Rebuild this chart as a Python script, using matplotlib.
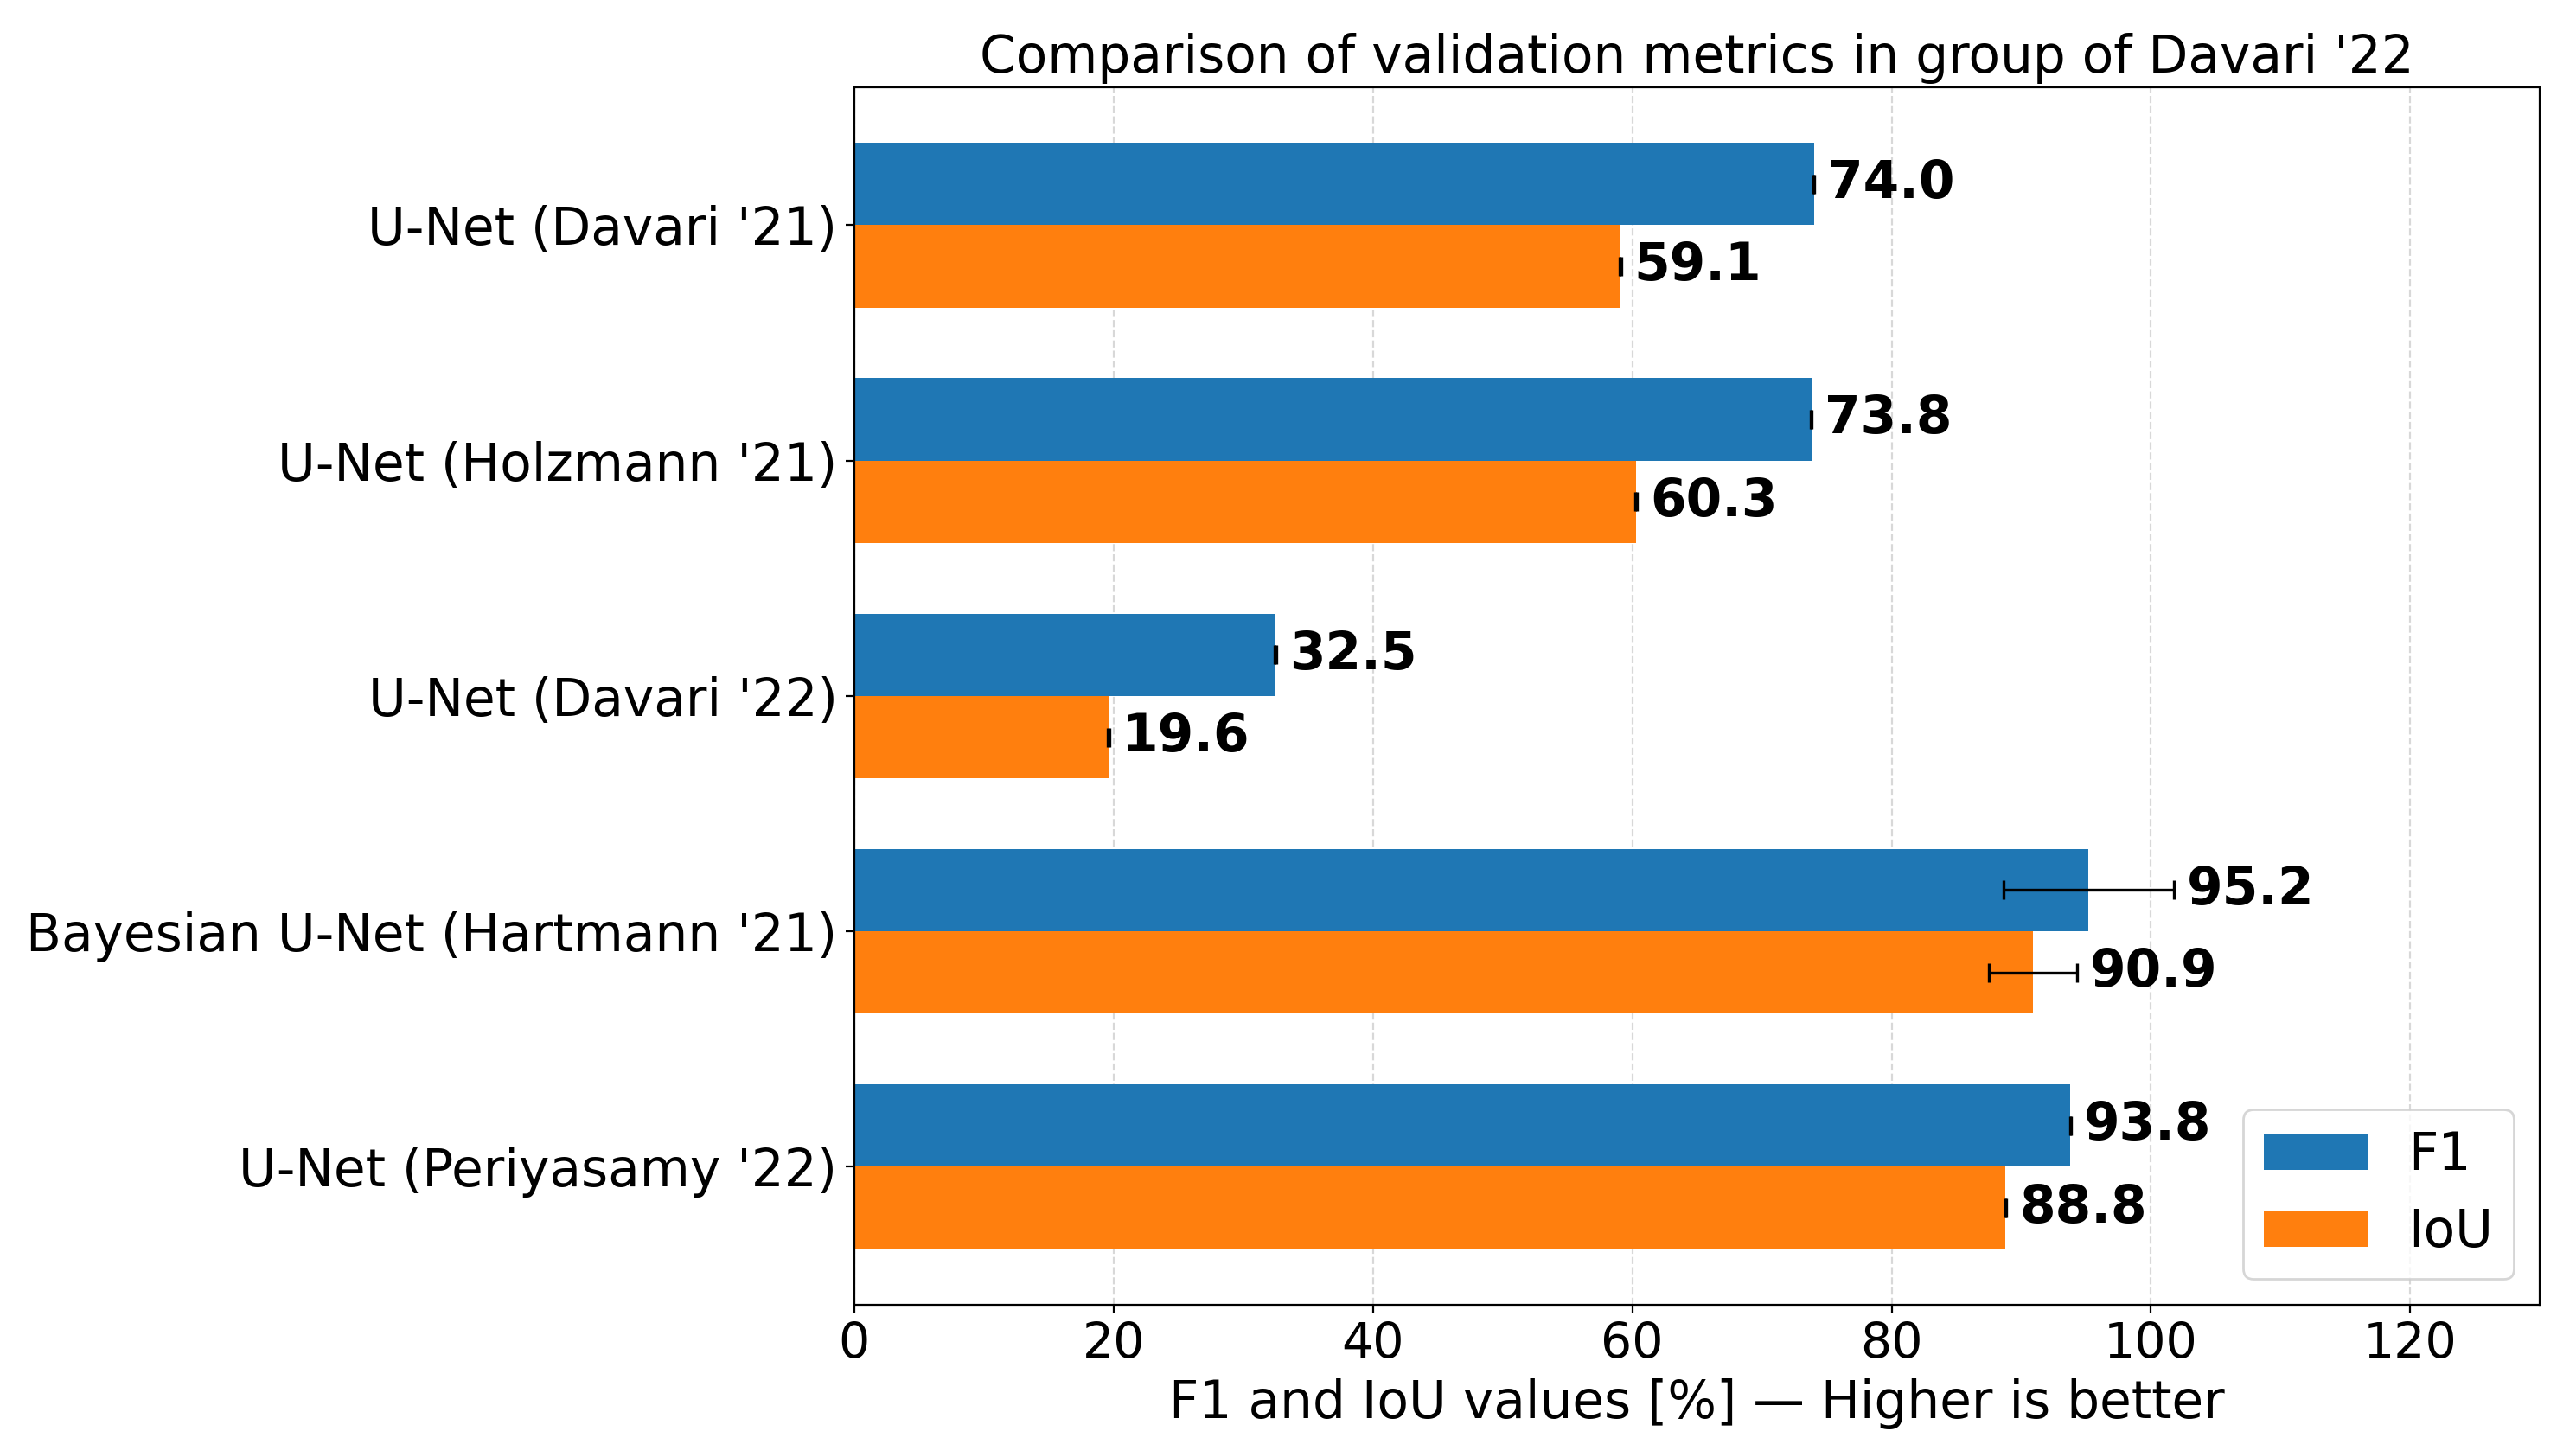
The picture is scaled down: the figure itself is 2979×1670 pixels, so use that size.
import matplotlib
matplotlib.use("Agg")
import matplotlib.pyplot as plt
import numpy as np

models = ["U-Net (Davari '21)", "U-Net (Holzmann '21)", "U-Net (Davari '22)",
          "Bayesian U-Net (Hartmann '21)", "U-Net (Periyasamy '22)"]
f1 = [74.0, 73.8, 32.5, 95.2, 93.8]
f1_err = [0.05, 0.05, 0.05, 6.55, 0.05]
iou = [59.1, 60.3, 19.6, 90.9, 88.8]
iou_err = [0.05, 0.05, 0.05, 3.4, 0.05]

FS = 21.5
fig = plt.figure(figsize=(2979/200, 1670/200), dpi=200)
ax = fig.add_axes([0.3316, 0.0966, 0.986-0.3316, 0.9395-0.0966])

y = np.arange(len(models))
h = 0.35
ekw = dict(elinewidth=1.2, capthick=1.2)
ax.barh(y - h/2, f1, h, xerr=f1_err, capsize=4, color='#1f77b4', label='F1', error_kw=ekw)
ax.barh(y + h/2, iou, h, xerr=iou_err, capsize=4, color='#ff7f0e', label='IoU', error_kw=ekw)

for yi, v, e in zip(y - h/2, f1, f1_err):
    ax.text(v + e + 1, yi, f"{v:.1f}", va='center', ha='left', fontsize=FS, fontweight='bold')
for yi, v, e in zip(y + h/2, iou, iou_err):
    ax.text(v + e + 1, yi, f"{v:.1f}", va='center', ha='left', fontsize=FS, fontweight='bold')

ax.set_yticks(y)
ax.set_yticklabels(models)
ax.invert_yaxis()
ax.set_xlim(0, 130)
ax.tick_params(axis='y', labelsize=FS)
ax.tick_params(axis='x', labelsize=20.5)
ax.xaxis.grid(True, linestyle='--', color='gray', alpha=0.3)
ax.set_axisbelow(True)
ax.set_xlabel("F1 and IoU values [%] — Higher is better", fontsize=FS)
ax.set_title("Comparison of validation metrics in group of Davari '22", fontsize=FS)
ax.legend(loc='lower right', fontsize=FS)

fig.savefig("out.png", dpi=200)
